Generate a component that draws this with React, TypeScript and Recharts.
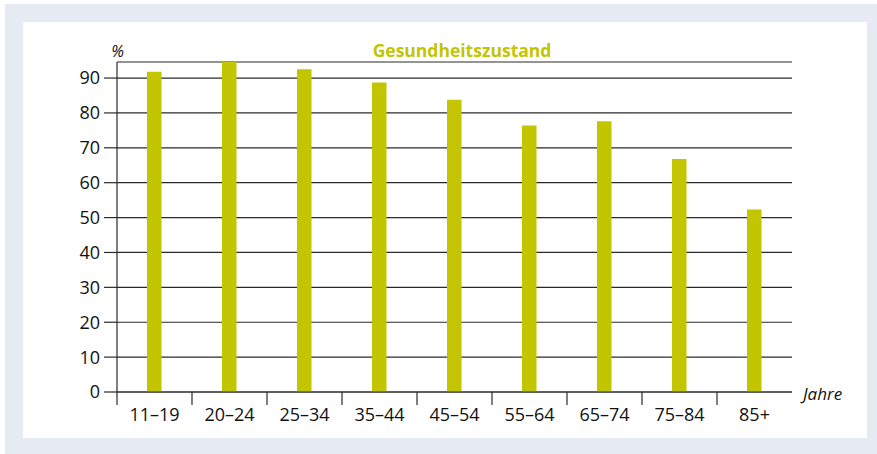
import { Bar, BarChart, CartesianGrid, XAxis, YAxis } from "recharts"

const categories = ["11–19", "20–24", "25–34", "35–44", "45–54", "55–64", "65–74", "75–84", "85+"]
const values = [91.8, 94.6, 92.5, 88.7, 83.8, 76.4, 77.6, 66.8, 52.3]
const yTicks = [0, 10, 20, 30, 40, 50, 60, 70, 80, 90]

const data = categories.map((c, i) => ({ age: c, value: values[i] }))

const W = 877
const H = 454
const margin = { top: 62, right: 85, bottom: 22, left: 77 }
const Y_AXIS_W = 40
const X_AXIS_H = 40
const PLOT_W = W - margin.left - margin.right - Y_AXIS_W
const BAND = PLOT_W / categories.length

const FONT = "'Open Sans', sans-serif"
const LINE = "#2a2a2a"
const GREEN = "#c2c500"

function AgeTick(props: any) {
  const { x, y, payload } = props
  const left = x - BAND / 2
  return (
    <g>
      <line x1={left} x2={left} y1={y} y2={y + 13} stroke={LINE} strokeWidth={1.2} />
      <text x={x} y={y + 29} textAnchor="middle" fontFamily={FONT} fontSize={18} fill="#111">
        {payload.value}
      </text>
    </g>
  )
}

export default function App() {
  return (
    <div style={{ position: "absolute", left: 0, top: 0, width: W, height: H, background: "#fff" }}>
      <div style={{ position: "absolute", left: 5, top: 4, width: 872, height: 450, background: "#e6ebf3" }} />
      <div style={{ position: "absolute", left: 23, top: 22, width: 844, height: 416, background: "#fff" }} />
      <div style={{ position: "absolute", left: 0, top: 0 }}>
        <BarChart width={W} height={H} data={data} margin={margin}>
          <CartesianGrid vertical={false} stroke={LINE} strokeWidth={1.2} />
          <XAxis
            dataKey="age"
            height={X_AXIS_H}
            axisLine={{ stroke: LINE, strokeWidth: 1.2 }}
            tickLine={false}
            tickSize={0}
            tickMargin={0}
            interval={0}
            tick={<AgeTick />}
          />
          <YAxis
            width={Y_AXIS_W}
            domain={[0, 94]}
            ticks={yTicks}
            interval={0}
            axisLine={{ stroke: LINE, strokeWidth: 1.2 }}
            tickLine={{ stroke: LINE, strokeWidth: 1.2 }}
            tickSize={13}
            tickMargin={4}
            tick={{ fontFamily: FONT, fontSize: 18, fill: "#111" }}
          />
          <Bar dataKey="value" fill={GREEN} barSize={14.5} isAnimationActive={false} />
        </BarChart>
      </div>
      <svg width={W} height={H} style={{ position: "absolute", left: 0, top: 0, pointerEvents: "none" }}>
        <text x={462} y={57} textAnchor="middle" fontFamily={FONT} fontWeight={700} fontSize={17.5} fill={GREEN}>
          Gesundheitszustand
        </text>
        <text x={117.5} y={57} textAnchor="middle" fontFamily={FONT} fontStyle="italic" fontSize={16} fill="#111">
          %
        </text>
        <text x={803} y={400} fontFamily={FONT} fontStyle="italic" fontSize={17} fill="#111">
          Jahre
        </text>
      </svg>
    </div>
  )
}
